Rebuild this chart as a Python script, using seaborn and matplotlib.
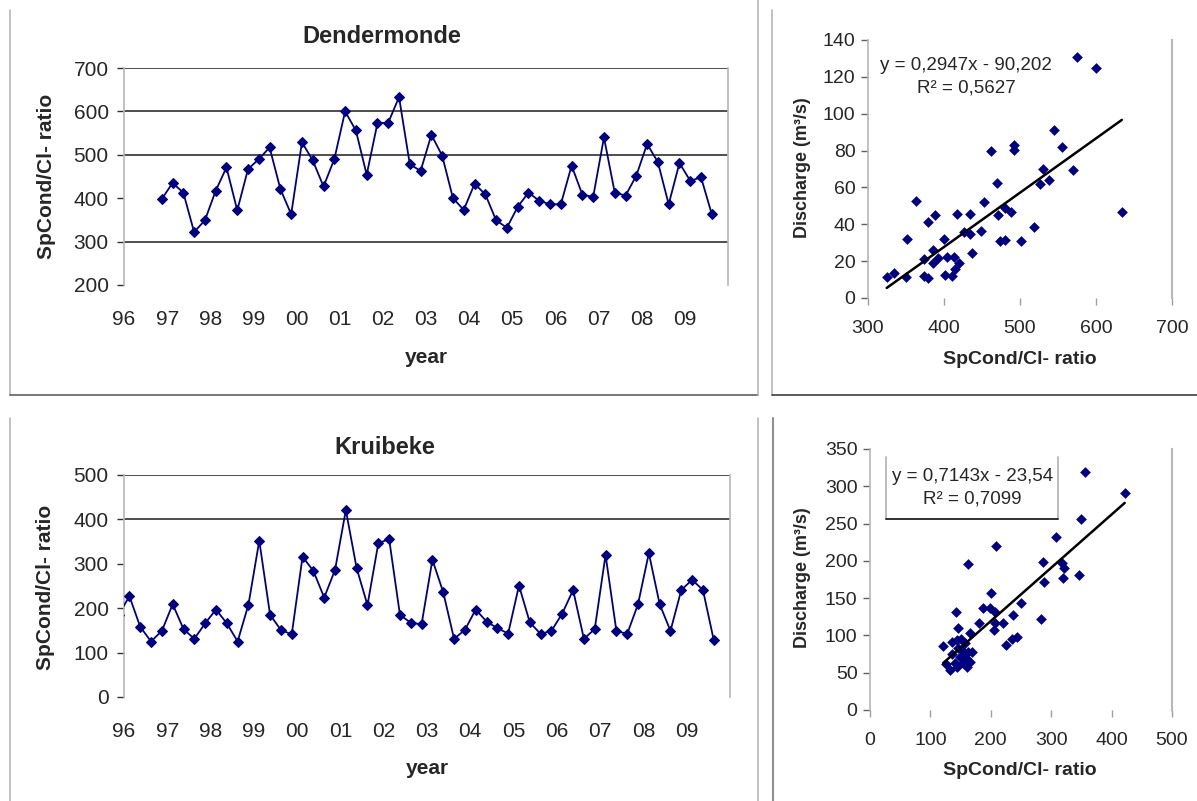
import numpy as np
import pandas as pd
import matplotlib
matplotlib.use("Agg")
import matplotlib.pyplot as plt
from matplotlib.lines import Line2D
import seaborn as sns

# ---------------- data ----------------
# Dendermonde quarterly SpCond/Cl- ratio (first quarter mid-point 1996.875)
dend_start = 1996.875
dend_ratio = [398, 435, 413, 322, 349, 417, 471, 372, 467, 490,
              517, 421, 363, 529, 487, 427, 490, 600, 556, 454,
              573, 574, 633, 478, 463, 546, 498, 400, 373, 433,
              409, 349, 332, 380, 413, 394, 386, 386, 475, 408,
              403, 540, 413, 406, 452, 525, 483, 386, 481, 440,
              448, 363]

# Kruibeke quarterly SpCond/Cl- ratio (first value just before the axis start)
krui_start = 1995.875
krui_ratio = [185, 227, 158, 125, 149, 209, 153, 131, 166, 197, 166,
              125, 208, 352, 185, 151, 141, 316, 284, 224, 286,
              421, 290, 207, 346, 356, 185, 167, 164, 309, 236,
              131, 151, 197, 170, 155, 143, 251, 168, 142, 149,
              188, 241, 131, 153, 320, 149, 142, 209, 324, 209,
              149, 241, 264, 241, 128]

year_ticks = [1996, 1997, 1998, 1999, 2000, 2001, 2002, 2003, 2004,
              2005, 2006, 2007, 2008, 2009]
year_labels = ["96", "97", "98", "99", "00", "01", "02", "03", "04",
               "05", "06", "07", "08", "09"]

# Dendermonde scatter: ratio vs discharge
dsc_ratio = [324.6, 334.3, 350.5, 351.9, 362.9, 373.8, 379.1, 373.8, 379.1, 387.9,
             385.7, 385.7, 392.3, 399.8, 401.1, 410.8, 404.6, 413.4, 419.6, 416.5,
             415.0, 426.6, 434.1, 434.1, 436.3, 448.6, 453.0, 461.8, 469.2, 470.5,
             473.6, 480.2, 480.2, 487.7, 492.1, 492.1, 501.0, 518.5, 526.4, 530.0,
             538.0, 545.0, 555.0, 570.0, 575.0, 600.0, 634.0]
dsc_q = [11.2, 13.4, 11.2, 31.8, 52.9, 11.9, 10.6, 20.9, 41.0, 44.9,
         26.0, 18.8, 21.5, 31.8, 12.5, 11.9, 22.4, 22.4, 18.8, 45.8,
         15.5, 35.9, 45.8, 34.7, 24.5, 36.3, 52.0, 79.6, 62.5, 45.3,
         31.0, 31.4, 48.6, 46.8, 82.9, 80.5, 31.0, 38.6, 61.6, 70.2,
         64.0, 91.0, 82.0, 69.7, 131.0, 124.7, 46.4]
dsc_slope, dsc_icpt = 0.2947, -90.202
dsc_eq = "y = 0,2947x - 90,202\nR² = 0,5627"

# Kruibeke scatter: ratio vs discharge
ksc_ratio = [355.6, 421.7, 350.0, 307.6, 285.6, 318.6, 320.8, 287.8, 320.0, 346.3,
             250.8, 283.9, 208.4, 162.6, 199.6, 142.2, 187.4, 198.5, 206.7, 237.0,
             180.8, 206.7, 220.5, 205.6, 146.0, 165.4, 224.9, 235.4, 242.6, 121.3,
             135.1, 143.3, 150.5, 157.1, 146.0, 153.3, 162.6, 168.1, 135.1, 148.8,
             158.8, 165.4, 154.3, 125.7, 132.3, 140.6, 159.9, 144.4]
ksc_q = [319.6, 290.4, 256.7, 232.0, 198.0, 197.0, 191.0, 172.0, 177.0, 181.0,
         143.0, 121.6, 220.4, 195.7, 156.6, 131.0, 136.4, 136.4, 132.0, 127.5,
         117.0, 117.0, 117.0, 107.0, 109.5, 103.7, 87.0, 94.7, 98.3, 85.7,
         91.6, 93.8, 94.7, 89.3, 82.6, 79.4, 78.0, 78.0, 75.0, 71.4,
         69.1, 64.6, 63.3, 61.5, 53.4, 63.3, 57.9, 57.9]
ksc_slope, ksc_icpt = 0.7143, -23.54
ksc_eq = "y = 0,7143x - 23,54\nR² = 0,7099"

# ---------------- style ----------------
sns.set_style("white")
plt.rcParams["font.family"] = ["Liberation Sans", "DejaVu Sans"]

NAVY = "#000080"
W, H = 1197, 801
fig = plt.figure(figsize=(W / 100, H / 100), dpi=100)


def rect(x0, y0, x1, y1):
    return [x0 / W, 1 - y1 / H, (x1 - x0) / W, (y1 - y0) / H]


def style_ts(ax, ylim, yticks, grid):
    ax.set_xlim(1996, 2010)
    ax.set_ylim(*ylim)
    ax.set_yticks(yticks)
    ax.set_xticks(year_ticks)
    ax.set_xticklabels(year_labels)
    for g in grid:
        ax.axhline(g, color="#303030", lw=1.2, zorder=1)
    for s in ["top", "bottom"]:
        ax.spines[s].set_visible(False)
    for s in ["left", "right"]:
        ax.spines[s].set_color("#b8b8b8")
        ax.spines[s].set_linewidth(1.2)
    ax.tick_params(axis="x", direction="out", length=4, width=1, color="#a0a0a0",
                   pad=14, labelsize=15)
    ax.tick_params(axis="y", direction="out", length=5, width=1, color="#303030",
                   pad=6, labelsize=15, left=True)


def style_sc(ax, xlim, xticks, ylim, yticks):
    ax.set_xlim(*xlim)
    ax.set_ylim(*ylim)
    ax.set_xticks(xticks)
    ax.set_yticks(yticks)
    for s in ["top", "bottom"]:
        ax.spines[s].set_visible(False)
    ax.spines["left"].set_color("#b8b8b8")
    ax.spines["right"].set_color("#b8b8b8")
    ax.spines["left"].set_linewidth(1.2)
    ax.spines["right"].set_linewidth(1.5)
    ax.tick_params(axis="x", direction="out", length=5, width=1, color="#a0a0a0",
                   pad=11, labelsize=14, bottom=True)
    ax.tick_params(axis="y", direction="out", length=5, width=1, color="#606060",
                   pad=4, labelsize=14, left=True)


# ---- Dendermonde time series ----
ax1 = fig.add_axes(rect(124, 68, 728, 285))
d_df = pd.DataFrame({"t": dend_start + 0.25 * np.arange(len(dend_ratio)),
                     "ratio": dend_ratio})
sns.lineplot(data=d_df, x="t", y="ratio", ax=ax1, color=NAVY, lw=1.3,
             marker="D", markersize=4.9, markeredgecolor=NAVY, estimator=None,
             sort=False, zorder=3)
style_ts(ax1, (200, 700), [200, 300, 400, 500, 600, 700], [300, 500, 600, 700])
ax1.set_xlabel("year", fontsize=15, fontweight="bold")
ax1.set_ylabel("SpCond/Cl- ratio", fontsize=15, fontweight="bold")
ax1.xaxis.set_label_coords(0.5, -0.332)
ax1.xaxis.label.set_va("center")
ax1.yaxis.set_label_coords(-0.129, 0.5)
ax1.yaxis.label.set_va("center")
ax1.text(0.427, 1.143, "Dendermonde", transform=ax1.transAxes, ha="center",
         va="center", fontsize=17, fontweight="bold")

# ---- Kruibeke time series ----
ax2 = fig.add_axes(rect(124, 475, 730, 697))
k_df = pd.DataFrame({"t": krui_start + 0.25 * np.arange(len(krui_ratio)),
                     "ratio": krui_ratio})
sns.lineplot(data=k_df, x="t", y="ratio", ax=ax2, color=NAVY, lw=1.3,
             marker="D", markersize=4.9, markeredgecolor=NAVY, estimator=None,
             sort=False, zorder=3)
style_ts(ax2, (0, 500), [0, 100, 200, 300, 400, 500], [400, 500])
ax2.set_xlabel("year", fontsize=15, fontweight="bold")
ax2.set_ylabel("SpCond/Cl- ratio", fontsize=15, fontweight="bold")
ax2.xaxis.set_label_coords(0.5, -0.32)
ax2.xaxis.label.set_va("center")
ax2.yaxis.set_label_coords(-0.129, 0.495)
ax2.yaxis.label.set_va("center")
ax2.text(0.431, 1.126, "Kruibeke", transform=ax2.transAxes, ha="center",
         va="center", fontsize=17, fontweight="bold")

# ---- Dendermonde scatter ----
ax3 = fig.add_axes(rect(868, 40, 1172, 298))
sns.scatterplot(x=dsc_ratio, y=dsc_q, ax=ax3, marker="D", s=30, color=NAVY,
                edgecolor=NAVY, linewidth=0, zorder=3)
xr = np.array([min(dsc_ratio), max(dsc_ratio)])
sns.lineplot(x=xr, y=dsc_slope * xr + dsc_icpt, ax=ax3, color="black", lw=1.8,
             zorder=4)
style_sc(ax3, (300, 700), [300, 400, 500, 600, 700], (0, 140),
         [0, 20, 40, 60, 80, 100, 120, 140])
ax3.set_xlabel("SpCond/Cl- ratio", fontsize=14, fontweight="bold")
ax3.set_ylabel("Discharge (m³/s)", fontsize=13, fontweight="bold")
ax3.xaxis.set_label_coords(0.5, -0.24)
ax3.xaxis.label.set_va("center")
ax3.yaxis.set_label_coords(-0.214, 0.504)
ax3.yaxis.label.set_va("center")
ax3.text(0.322, 0.858, dsc_eq, transform=ax3.transAxes, ha="center",
         va="center", fontsize=13.5, linespacing=1.4, multialignment="center")

# ---- Kruibeke scatter ----
ax4 = fig.add_axes(rect(870, 449, 1172, 710))
sns.scatterplot(x=ksc_ratio, y=ksc_q, ax=ax4, marker="D", s=30, color=NAVY,
                edgecolor=NAVY, linewidth=0, zorder=3)
xr2 = np.array([min(ksc_ratio), max(ksc_ratio)])
sns.lineplot(x=xr2, y=ksc_slope * xr2 + ksc_icpt, ax=ax4, color="black", lw=1.8,
             zorder=4)
style_sc(ax4, (0, 500), [0, 100, 200, 300, 400, 500], (0, 350),
         [0, 50, 100, 150, 200, 250, 300, 350])
ax4.set_xlabel("SpCond/Cl- ratio", fontsize=14, fontweight="bold")
ax4.set_ylabel("Discharge (m³/s)", fontsize=13, fontweight="bold")
ax4.xaxis.set_label_coords(0.497, -0.23)
ax4.xaxis.label.set_va("center")
ax4.yaxis.set_label_coords(-0.222, 0.506)
ax4.yaxis.label.set_va("center")
bx0, bx1, by0, by1 = 0.053, 0.6225, 0.732, 0.969
ax4.fill_between([bx0, bx1], by0, by1, transform=ax4.transAxes, color="white",
                 zorder=5)
ax4.add_line(Line2D([bx0, bx0], [by0, by1], transform=ax4.transAxes,
                    color="#b0b0b0", lw=1.2, zorder=6))
ax4.add_line(Line2D([bx1, bx1], [by0, by1], transform=ax4.transAxes,
                    color="#b0b0b0", lw=1.2, zorder=6))
ax4.add_line(Line2D([bx0, bx1], [by0, by0], transform=ax4.transAxes,
                    color="#202020", lw=1.3, zorder=6))
ax4.text(0.338, 0.852, ksc_eq, transform=ax4.transAxes, ha="center",
         va="center", fontsize=13.5, linespacing=1.4, multialignment="center",
         zorder=7)

# ---- panel frames ----
def fline(x0, y0, x1, y1, color, lw=1.2):
    fig.add_artist(Line2D([x0 / W, x1 / W], [1 - y0 / H, 1 - y1 / H],
                          transform=fig.transFigure, color=color, lw=lw))


fline(10, 10, 10, 395, "#b8b8b8")
fline(10, 395, 758, 395, "#606060")
fline(758, 0, 758, 395, "#b8b8b8")
fline(772, 10, 772, 395, "#b8b8b8")
fline(772, 395, 1197, 395, "#404040")
fline(10, 418, 10, 801, "#b8b8b8")
fline(758, 418, 758, 801, "#b8b8b8")
fline(773, 418, 773, 801, "#909090", 1.5)

fig.savefig("out.png", dpi=100)
